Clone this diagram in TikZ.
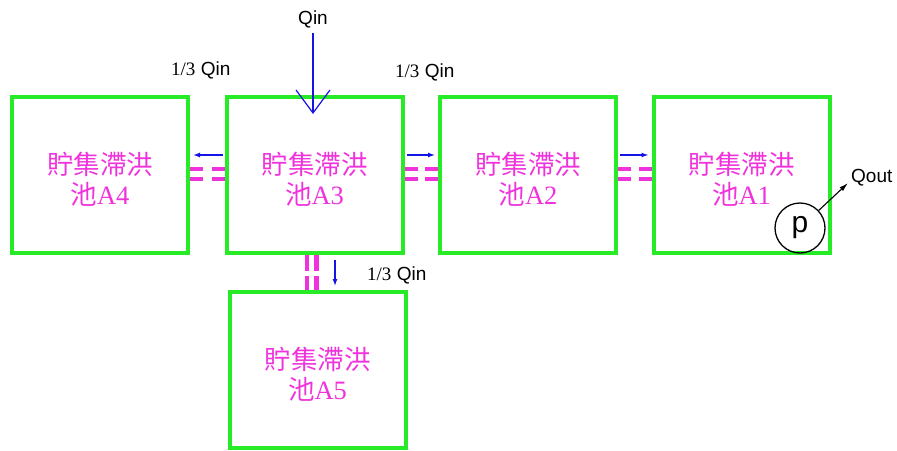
\documentclass[tikz,border=0pt]{standalone}
\usepackage{fontspec}
\setmainfont{Liberation Sans}
\newfontfamily\cjk{Noto Sans CJK TC}
\newfontfamily\numfont{Liberation Serif}
\usetikzlibrary{arrows.meta}
\definecolor{poolgreen}{RGB}{40,235,40}
\definecolor{poolpink}{RGB}{240,50,220}
\definecolor{flowblue}{RGB}{20,20,230}
% pond caption: two lines, the tall strut on the first line lowers the block a little
\newcommand{\poolname}[1]{\rule{0pt}{31pt}貯集滯洪\\池{\numfont #1}}
\tikzset{
  pool/.style={draw=poolgreen, line width=4pt, minimum width=176pt,
    minimum height=156pt, inner sep=0pt, align=center, text=poolpink,
    font=\cjk\fontsize{26.5}{30}\selectfont},
  pipe/.style={draw=poolpink, line width=4.5pt},
  flow/.style={draw=flowblue, line width=1.3pt,
    -{Latex[length=7pt,width=5pt]}},
  inflow/.style={draw=flowblue, line width=1.2pt,
    -{Straight Barb[length=23pt,width=34pt,line width=1.2pt]}},
  lbl/.style={font=\fontsize{19}{22}\selectfont, inner sep=0pt},
}
\begin{document}
\begin{tikzpicture}[x=1pt,y=-1pt]
\useasboundingbox[fill=white] (0,0) rectangle (897,450);

% detention ponds
\node[pool] (A4) at (100,175)   {\poolname{A4}};
\node[pool] (A3) at (314.5,175) {\poolname{A3}};
\node[pool] (A2) at (528,175)   {\poolname{A2}};
\node[pool] (A1) at (741.5,175) {\poolname{A1}};
\node[pool] (A5) at (317.5,370) {\poolname{A5}};

% connecting pipes (double, broken in the middle)
\foreach \dy in {6,-4} {
  \draw[pipe] ([yshift=\dy pt]A4.east) -- ++(13,0);
  \draw[pipe] ([yshift=\dy pt]A3.west) -- ++(-13,0);
  \draw[pipe] ([yshift=\dy pt]A3.east) -- ++(13,0);
  \draw[pipe] ([yshift=\dy pt]A2.west) -- ++(-13,0);
  \draw[pipe] ([yshift=\dy pt]A2.east) -- ++(13,0);
  \draw[pipe] ([yshift=\dy pt]A1.west) -- ++(-13,0);
}
\foreach \dx in {-7.5,2} {
  \draw[pipe] ([xshift=\dx pt]A3.south) -- ++(0,16);
  \draw[pipe] ([xshift=\dx pt]A3.south |- A5.north) -- ++(0,-14);
}

% flow directions between ponds
\draw[flow, shorten <=2pt, shorten >=3pt] ([yshift=20pt]A3.west) -- ([yshift=20pt]A4.east);
\draw[flow, shorten <=2.5pt, shorten >=3pt] ([yshift=20pt]A3.east) -- ([yshift=20pt]A2.west);
\draw[flow, shorten <=2pt, shorten >=3pt] ([yshift=20pt]A2.east) -- ([yshift=20pt]A1.west);
\draw[flow, shorten <=5pt, shorten >=4pt] ([xshift=20.5pt]A3.south) -- ([xshift=20.5pt]A3.south |- A5.north);

% inflow
\node[lbl] (Qin) at (313,19) {Qin};
\coordinate (qintip) at (313,114);
\draw[inflow, shorten <=5pt] (Qin.south) -- (qintip);

% flow labels
\node[lbl, anchor=west] (L4) at (171,70)  {{\numfont 1/3} Qin};
\node[lbl, anchor=west] (L2) at (395,72)  {{\numfont 1/3} Qin};
\node[lbl, anchor=west] (L5) at (367,275) {{\numfont 1/3} Qin};

% pump and outflow
\node[draw, circle, minimum size=50pt, inner sep=0pt, line width=1.3pt,
  font=\fontsize{30}{30}\selectfont] (P) at (800,228) {p};
\coordinate (qo) at (848,183);
\draw[line width=1.1pt, -{Latex[length=9pt,width=5pt]}] (P) -- (qo);
\node[lbl, anchor=west] (Qout) at (851,178) {Qout};
\end{tikzpicture}
\end{document}
